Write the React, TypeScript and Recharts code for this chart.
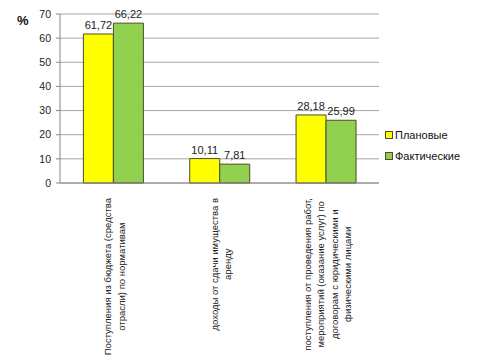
import { BarChart, Bar, XAxis, YAxis, CartesianGrid, Legend, LabelList } from 'recharts';

// categories, one string per category, "\n" marks a line break in the tick
const categories = [
  'Поступления из бюджета (средства\nотрасли) по нормативам',
  'доходы от сдачи имущества в\nаренду',
  'поступления от проведения работ,\nмероприятий (оказание услуг) по\nдоговорам с юридическими и\nфизическими лицами',
];
const planned = [61.72, 10.11, 28.18];
const actual = [66.22, 7.81, 25.99];
const yTicks = [0, 10, 20, 30, 40, 50, 60, 70];

const data = categories.map((name, i) => ({ name, planned: planned[i], actual: actual[i] }));

const FONT = '"Liberation Sans", Arial, sans-serif';
const TICK_FONT_SIZE = 9.5;

let ctx: CanvasRenderingContext2D | null = null;
const measure = (s: string) => {
  if (!ctx) ctx = document.createElement('canvas').getContext('2d');
  if (!ctx) return s.length * 5;
  ctx.font = `${TICK_FONT_SIZE}px "Liberation Sans"`;
  return ctx.measureText(s).width;
};

const CategoryTick = (props: any) => {
  const { x, y, payload } = props;
  const lines: string[] = String(payload.value).split('\n');
  const maxW = Math.max(...lines.map(measure));
  const lh = 13.5;
  const cx = -(7 + maxW / 2);
  return (
    <g transform={`translate(${x},${y}) rotate(-90)`}>
      {lines.map((ln, i) => (
        <text
          key={i}
          x={cx}
          y={1.5 + (i - (lines.length - 1) / 2) * lh}
          textAnchor="middle"
          dominantBaseline="central"
          fontSize={TICK_FONT_SIZE}
          fontFamily={FONT}
          fill="#222"
        >
          {ln}
        </text>
      ))}
    </g>
  );
};

const fmt = (v: any) => Number(v).toFixed(2).replace('.', ',');

const LegendBox = () => (
  <div style={{ fontFamily: FONT, fontSize: 11, color: '#111' }}>
    {[
      { label: 'Плановые', color: '#ffff00' },
      { label: 'Фактические', color: '#92d050' },
    ].map((it) => (
      <div key={it.label} style={{ display: 'flex', alignItems: 'center', height: 21 }}>
        <span
          style={{
            display: 'inline-block',
            width: 6,
            height: 6,
            background: it.color,
            border: '1px solid #4d4d26',
            marginRight: 2,
          }}
        />
        {it.label}
      </div>
    ))}
  </div>
);

export default function App() {
  return (
    <div style={{ position: 'absolute', left: 0, top: 0, background: '#fff' }}>
      <BarChart
        width={480}
        height={362}
        data={data}
        margin={{ top: 14, right: 101, bottom: 0, left: 15 }}
        barCategoryGap="22%"
        barGap={0}
      >
        <CartesianGrid vertical={false} stroke="#a6a6a6" />
        <XAxis
          dataKey="name"
          height={179}
          interval={0}
          tick={<CategoryTick />}
          tickLine={false}
          axisLine={{ stroke: '#868686' }}
        />
        <YAxis
          width={45}
          domain={[0, 70]}
          ticks={yTicks}
          tick={{ fontSize: 10.5, fill: '#222', fontFamily: FONT }}
          tickSize={4}
          tickMargin={5}
          tickLine={{ stroke: '#868686' }}
          axisLine={{ stroke: '#868686' }}
          label={{
            value: '%',
            position: 'insideTopLeft',
            offset: 2,
            fontSize: 13,
            fontWeight: 'bold',
            fill: '#111',
            fontFamily: FONT,
          }}
        />
        <Legend
          layout="vertical"
          align="center"
          verticalAlign="middle"
          content={<LegendBox />}
          wrapperStyle={{ left: 385, top: 124, width: 95 }}
        />
        <Bar dataKey="planned" name="Плановые" fill="#ffff00" stroke="#4d4d26" strokeWidth={1} isAnimationActive={false}>
          <LabelList dataKey="planned" position="top" formatter={fmt} fontSize={11} fill="#222" fontFamily={FONT} />
        </Bar>
        <Bar dataKey="actual" name="Фактические" fill="#92d050" stroke="#4d4d26" strokeWidth={1} isAnimationActive={false}>
          <LabelList dataKey="actual" position="top" formatter={fmt} fontSize={11} fill="#222" fontFamily={FONT} />
        </Bar>
      </BarChart>
    </div>
  );
}
